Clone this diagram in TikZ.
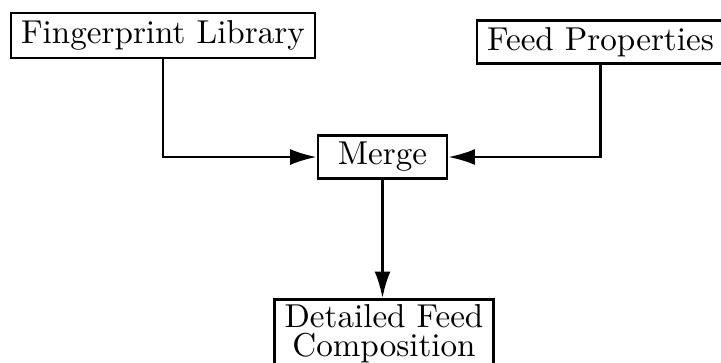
\documentclass[tikz,border=0pt]{standalone}
\usepackage{tikz}
\usetikzlibrary{arrows.meta}
\tikzset{
  block/.style = {shape=rectangle, draw, line width=0.75pt,
                  align=center, inner xsep=3pt, inner ysep=2pt},
  link/.style  = {draw, line width=0.75pt, -{Latex[length=8pt,width=4.8pt]}}
}

\begin{document}
\begin{tikzpicture}
  [
  x = 0.302pt, y = -0.302pt,
  every node/.style = {font = \normalsize}
  ]
  \useasboundingbox (0,0) rectangle (721,362);

  \node[block, minimum height=13.6pt] (library) at (163,35.5) {Fingerprint Library};
  \node[block, minimum height=11.5pt] (props) at (600.5,42) {Feed Properties};
  \node[block, minimum width=39pt, minimum height=12.7pt] (merge) at (382.5,157) {Merge};
  \node[block, anchor=north, inner ysep=1.5pt] (detail) at (384,298)
       {Detailed Feed \\[-3.2pt] Composition};

  \draw[link] (library.south) |- (merge.west);
  \draw[link] (props.south) |- (merge.east);
  \draw[link] (merge.south) -- (merge.south |- detail.north);

\end{tikzpicture}
\end{document}
